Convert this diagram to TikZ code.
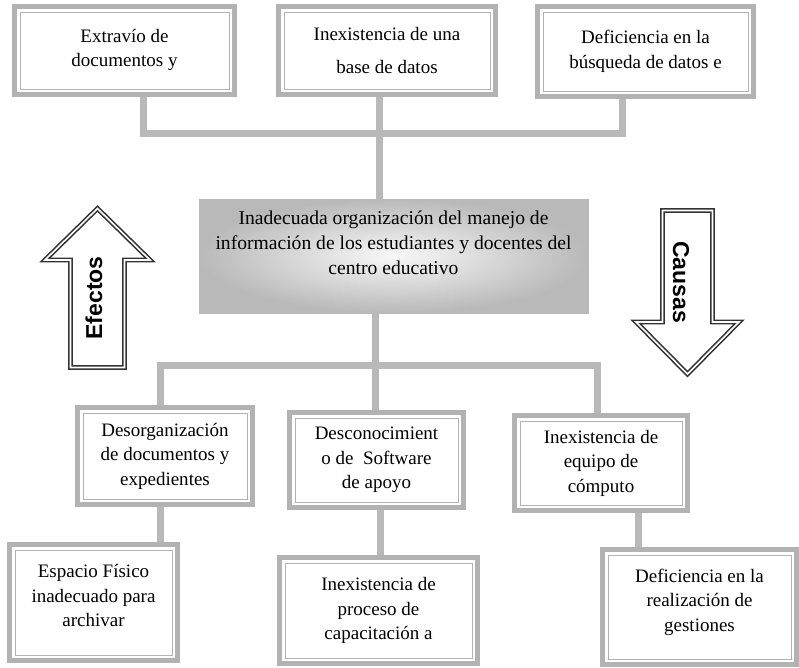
\documentclass[tikz,border=0pt]{standalone}
\usepackage{fontspec}
\setmainfont{Liberation Serif}
\setsansfont{Liberation Sans}
\usetikzlibrary{backgrounds}
\begin{document}
\begin{tikzpicture}[x=1pt, y=-1pt,
    box/.style={draw=gray!60, line width=5pt, align=center, inner sep=2pt,
      font=\fontsize{19}{24.5}\selectfont,
      path picture={\draw[gray!60, line width=1pt]
        ([shift={(5.5pt,5.5pt)}]path picture bounding box.south west) rectangle
        ([shift={(-5.5pt,-5.5pt)}]path picture bounding box.north east);}},
    probbox/.style={shade, inner color=gray!6, outer color=gray!55,
      draw=gray!55, line width=0.8pt, align=center, font=\fontsize{19.6}{25}\selectfont},
    bar/.style={draw=gray!55, line width=7pt},
    bigarrow/.style={draw=gray!40!black, line width=1.6pt, double=white, double distance=1.6pt},
    arrowtext/.style={font=\sffamily\bfseries\fontsize{23}{23}\selectfont}]
        \useasboundingbox (0,0) rectangle (799,667);

        \node[box, minimum width=220, minimum height=88, text depth=5pt] (ext) at (124.5,50.5) {Extravío de\\documentos y};
        \node[box, minimum width=217, minimum height=88] (bd) at (387,50.5) {Inexistencia de una\\[8pt]base de datos};
        \node[box, minimum width=216, minimum height=90] (def) at (645.5,51.5) {Deficiencia en la\\búsqueda de datos e};

        \node[probbox, minimum width=389, minimum height=114, text depth=26pt] (prob) at (393.5,256)
          {Inadecuada organización del manejo de\\información de los estudiantes y docentes del\\centro educativo};

        \node[box, minimum width=175, minimum height=97] (des) at (165,456) {Desorganización\\de documentos y\\expedientes};
        \node[box, minimum width=174, minimum height=95] (sw) at (376.5,460) {Desconocimient\\o de\ \ Software\\de apoyo};
        \node[box, minimum width=173, minimum height=95] (eq) at (601,463) {Inexistencia de\\equipo de\\cómputo};

        \node[box, minimum width=168, minimum height=116, text depth=14pt] (esp) at (93.5,602.5) {Espacio Físico\\inadecuado para\\archivar};
        \node[box, minimum width=198, minimum height=106] (cap) at (378.5,610.5) {Inexistencia de\\proceso de\\capacitación a};
        \node[box, minimum width=194, minimum height=115, text depth=14pt] (ges) at (699.5,607) {Deficiencia en la\\realización de\\gestiones};

        \coordinate (topjoin) at (379,133);
        \coordinate (botjoin) at (375,365);

        \begin{scope}[on background layer]
        \fill[white] (0,0) rectangle (799,667);
        \draw[bar] ([xshift=18.5pt]ext.south) |- (topjoin) -| ([xshift=-23.5pt]def.south);
        \draw[bar] ([xshift=-8pt]bd.south) -- ([xshift=-14.5pt]prob.north);
        \draw[bar] ([xshift=-18.5pt]prob.south) -- (botjoin);
        \draw[bar] ([xshift=-5pt]des.north) |- (botjoin) -| ([xshift=-4pt]eq.north);
        \draw[bar] (botjoin) -- (sw.north -| botjoin);
        \draw[bar] ([xshift=-5pt]des.south) -- ([xshift=-5pt]des.south |- esp.north);
        \draw[bar] ([xshift=3.5pt]sw.south) -- ([xshift=3.5pt]sw.south |- cap.north);
        \draw[bar] ([xshift=37pt]eq.south) -- ([xshift=37pt]eq.south |- ges.north);
        \end{scope}

        \draw[bigarrow] (97.5,208.5) -- (150,260) -- (124.5,260) -- (124.5,367.5)
          -- (70.5,367.5) -- (70.5,260) -- (45,260) -- cycle;
        \draw[bigarrow] (662.5,210.5) -- (712.5,210.5) -- (712.5,322) -- (739,322)
          -- (687.5,374) -- (636,322) -- (662.5,322) -- cycle;
        \node[arrowtext, rotate=90] (efectos) at (94,298) {Efectos};
        \node[arrowtext, rotate=-90] (causas) at (681,282) {Causas};
\end{tikzpicture}
\end{document}
